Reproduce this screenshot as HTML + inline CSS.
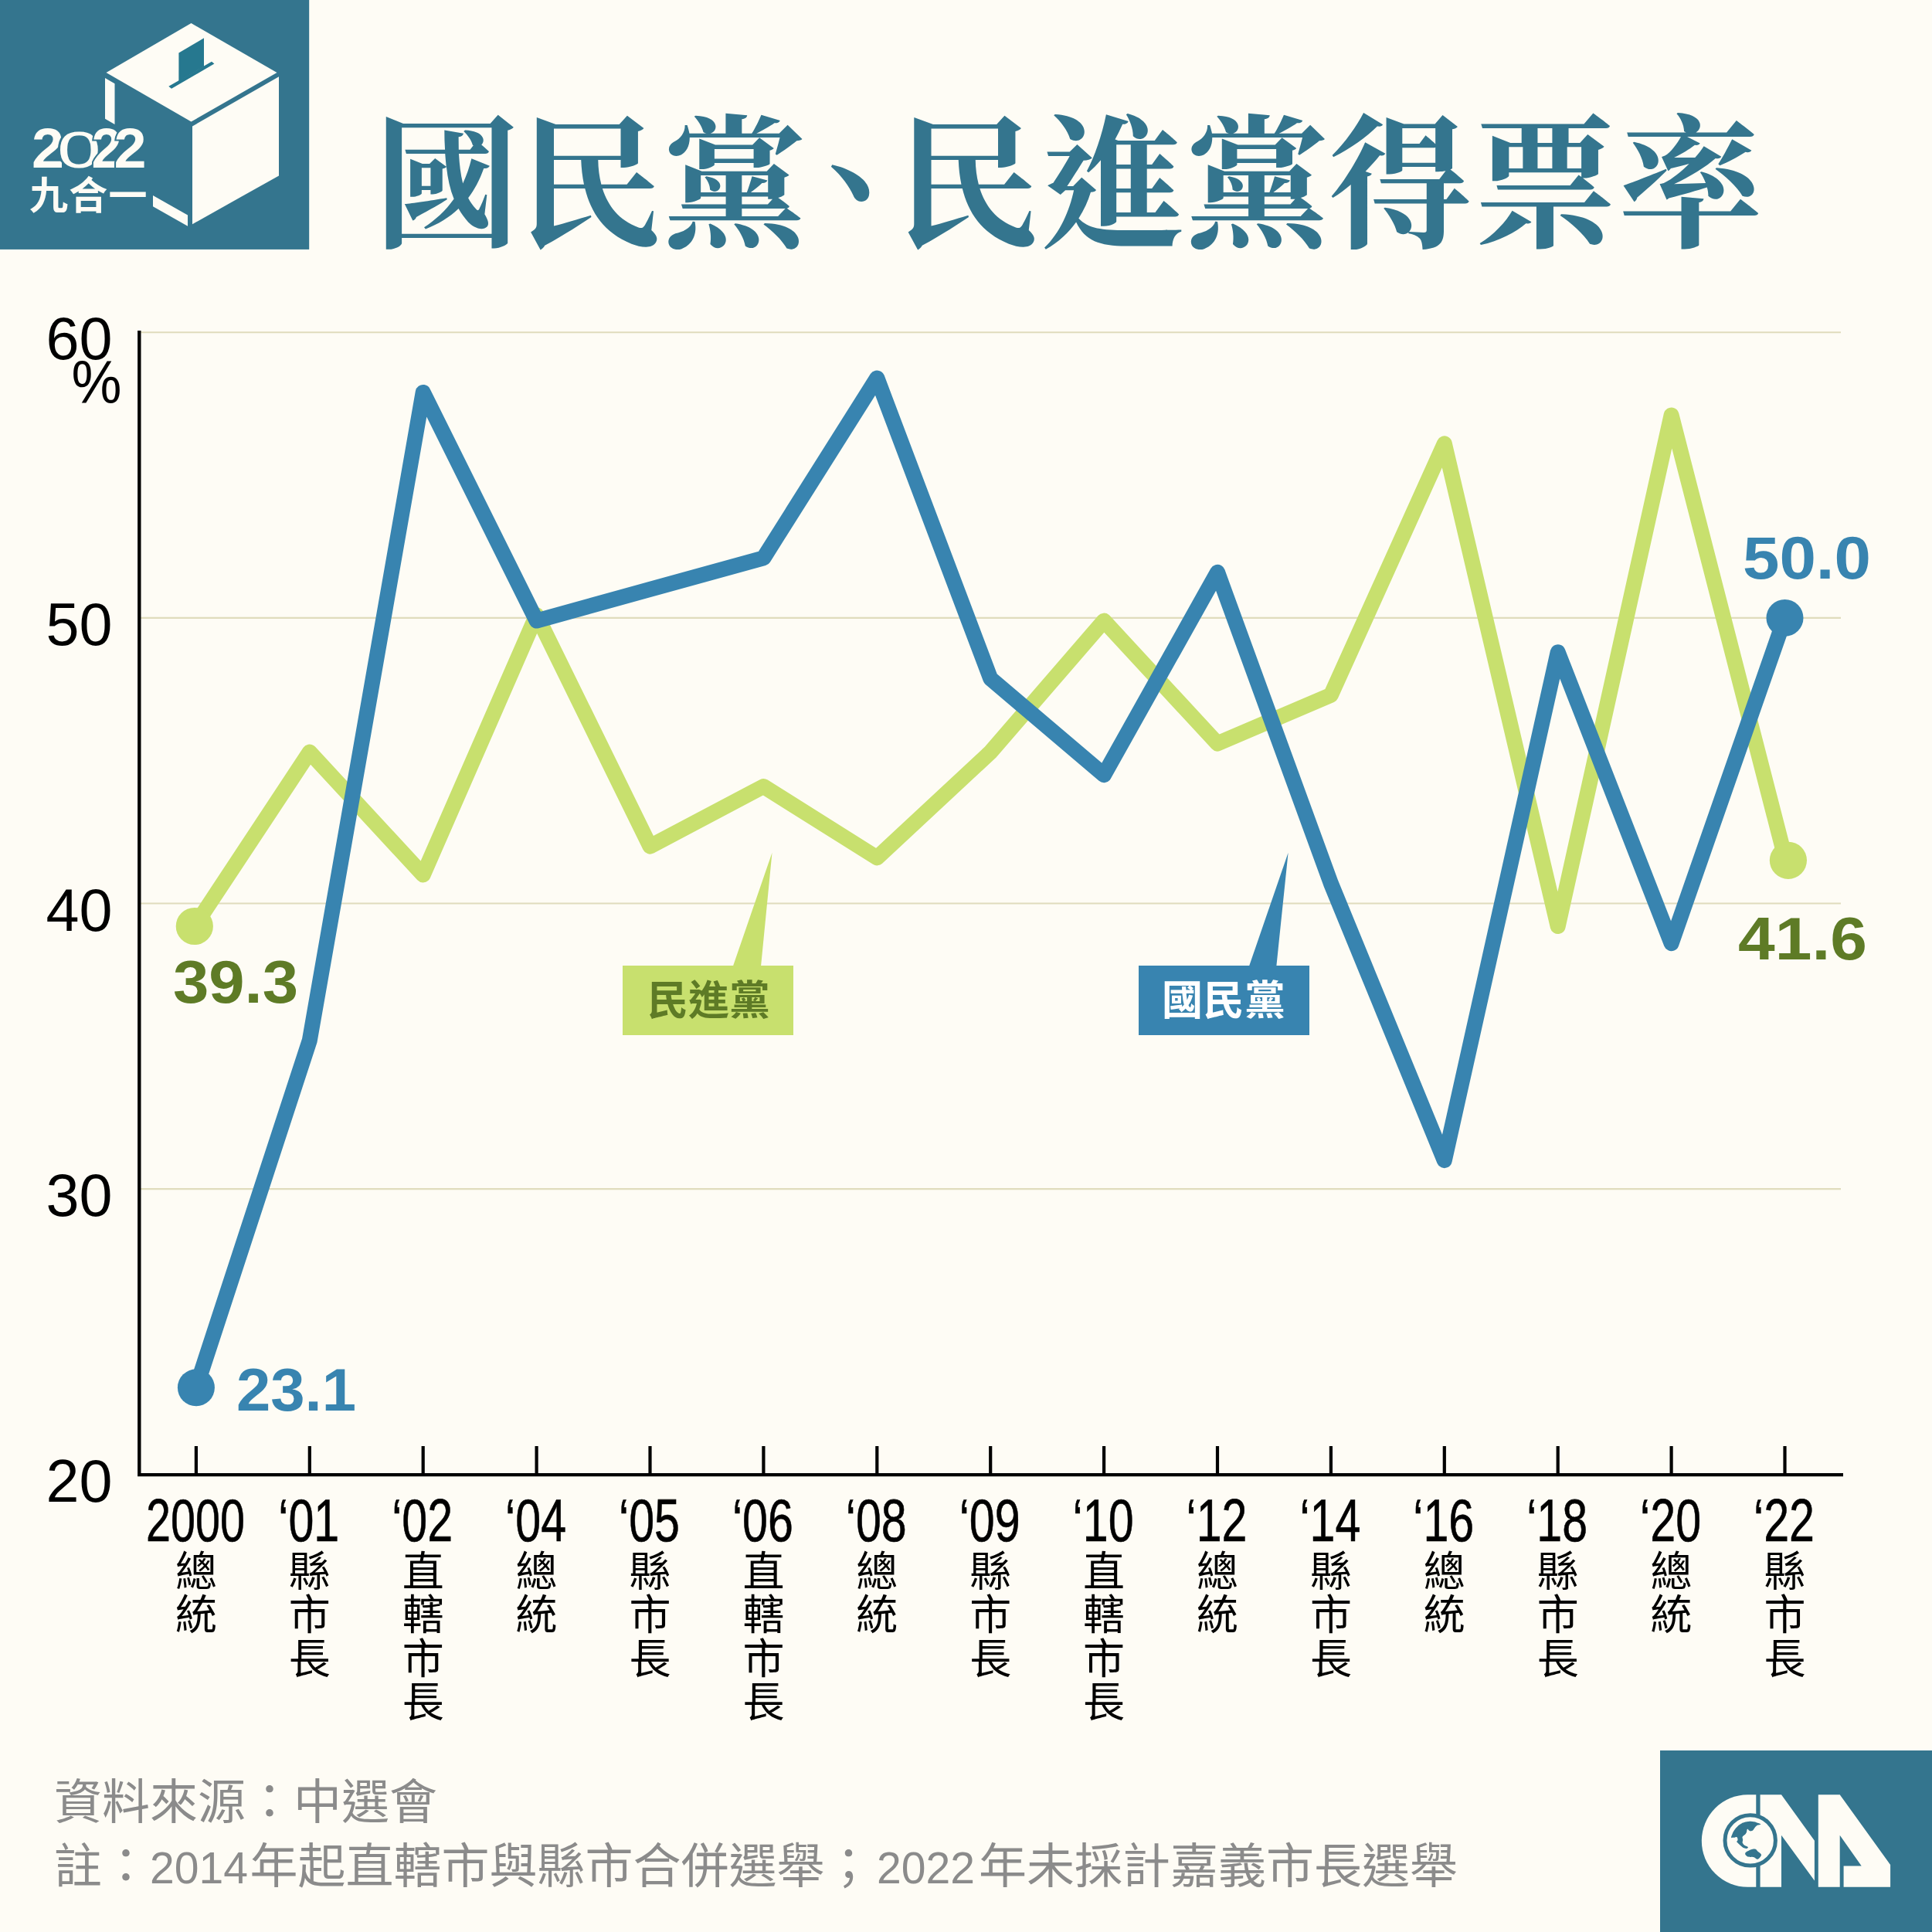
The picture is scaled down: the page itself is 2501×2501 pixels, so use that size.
<!DOCTYPE html>
<html lang="zh-Hant"><head><meta charset="utf-8"><title>國民黨、民進黨得票率</title>
<style>
html,body{margin:0;padding:0;background:#fefcf5;}
svg{display:block}
svg{font-family:"Liberation Sans","Noto Sans CJK TC",sans-serif;}
.serif{font-family:"Liberation Serif","Noto Serif CJK SC",serif;font-weight:700;}
.b{font-weight:700}
</style></head><body>
<svg lang="zh-TW" width="2501" height="2501" viewBox="0 0 2501 2501">
<rect width="2501" height="2501" fill="#fefcf5"/>
<g id="ballot">
<rect x="0" y="0" width="400.2" height="322.9" fill="#34758e"/>
<polygon points="247.5,30 358.5,94 247.5,157.5 137.5,94" fill="#fefcf5"/>
<polygon points="249,163.4 361,99.3 361,227.4 249,290.2" fill="#fefcf5"/>
<polygon points="136,101 148.5,108.2 148.5,161 136,153.7" fill="#fefcf5"/>
<polygon points="198,253 243,278.6 243,292.8 198,267.2" fill="#fefcf5"/>
<polygon points="231.4,68.5 264,49.3 264,86 231.4,105" fill="#26788f"/>
<polygon points="218.3,111.8 274,79.8 277.4,82.5 222,114.8" fill="#26788f"/>
<text y="217.3" class="b" font-size="71.5" fill="#fefcf5" stroke="#34758e" stroke-width="4" paint-order="stroke"><tspan x="41" textLength="42" lengthAdjust="spacingAndGlyphs">2</tspan><tspan x="73.9" font-size="67" font-weight="400" textLength="56.7" lengthAdjust="spacingAndGlyphs">0</tspan><tspan x="118.6" textLength="39" lengthAdjust="spacingAndGlyphs">2</tspan><tspan x="147.6" textLength="42" lengthAdjust="spacingAndGlyphs">2</tspan></text>
<text x="38" y="270.5" class="b" font-size="50" fill="#fefcf5" textLength="152.5" lengthAdjust="spacing">九合一</text>
</g>
<text id="title" class="serif" font-size="186.5" fill="#34758e" x="485.3 672.3 857.8 1012.3 1160.8 1347.3 1534.3 1719.3 1907.3 2095.3" y="306">國民黨、民進黨得票率</text>
<g id="grid" stroke="#e0dcbd" stroke-width="2.1"><line x1="181" y1="430.3" x2="2383" y2="430.3"/><line x1="181" y1="799.9" x2="2383" y2="799.9"/><line x1="181" y1="1169.5" x2="2383" y2="1169.5"/><line x1="181" y1="1539.1" x2="2383" y2="1539.1"/></g>
<g id="ylabels" font-size="77" fill="#000"><text x="59.5" y="465.3" textLength="86" lengthAdjust="spacingAndGlyphs">60</text><text x="59.5" y="834.9" textLength="86" lengthAdjust="spacingAndGlyphs">50</text><text x="59.5" y="1204.5" textLength="86" lengthAdjust="spacingAndGlyphs">40</text><text x="59.5" y="1574.1" textLength="86" lengthAdjust="spacingAndGlyphs">30</text><text x="59.5" y="1943.7" textLength="86" lengthAdjust="spacingAndGlyphs">20</text><text x="92.5" y="521.5" textLength="65" lengthAdjust="spacingAndGlyphs">%</text></g>
<polyline points="251.8,1199.1 400.8,973.6 547.7,1132.5 694.6,796.2 841.5,1095.6 988.4,1018.0 1135.3,1110.4 1282.2,973.6 1429.1,803.6 1576.0,962.5 1722.9,899.7 1869.8,574.4 2016.7,1199.1 2163.6,537.5 2311.6,1113.3" fill="none" stroke="#c8e06e" stroke-width="20" stroke-linejoin="round" stroke-linecap="round"/><circle cx="251.8" cy="1199" r="24.1" fill="#c8e06e"/><circle cx="2314.9" cy="1113.8" r="24.1" fill="#c8e06e"/><polyline points="253.9,1796.3 400.8,1346.9 547.7,507.9 694.6,803.6 841.5,762.9 988.4,722.3 1135.3,489.4 1282.2,878.3 1429.1,1003.2 1576.0,740.8 1722.9,1143.6 1869.8,1502.1 2016.7,844.3 2163.6,1221.2 2310.5,799.9" fill="none" stroke="#3884b0" stroke-width="20" stroke-linejoin="round" stroke-linecap="round"/><circle cx="253.9" cy="1796.3" r="24" fill="#3884b0"/><circle cx="2310.5" cy="799.9" r="24" fill="#3884b0"/>
<g id="axes" stroke="#000" stroke-width="4.4" fill="none"><polyline points="180.3,428 180.3,1909.1 2386,1909.1" /><line x1="253.9" y1="1872" x2="253.9" y2="1909" stroke-width="4.2"/><line x1="400.8" y1="1872" x2="400.8" y2="1909" stroke-width="4.2"/><line x1="547.7" y1="1872" x2="547.7" y2="1909" stroke-width="4.2"/><line x1="694.6" y1="1872" x2="694.6" y2="1909" stroke-width="4.2"/><line x1="841.5" y1="1872" x2="841.5" y2="1909" stroke-width="4.2"/><line x1="988.4" y1="1872" x2="988.4" y2="1909" stroke-width="4.2"/><line x1="1135.3" y1="1872" x2="1135.3" y2="1909" stroke-width="4.2"/><line x1="1282.2" y1="1872" x2="1282.2" y2="1909" stroke-width="4.2"/><line x1="1429.1" y1="1872" x2="1429.1" y2="1909" stroke-width="4.2"/><line x1="1576.0" y1="1872" x2="1576.0" y2="1909" stroke-width="4.2"/><line x1="1722.9" y1="1872" x2="1722.9" y2="1909" stroke-width="4.2"/><line x1="1869.8" y1="1872" x2="1869.8" y2="1909" stroke-width="4.2"/><line x1="2016.7" y1="1872" x2="2016.7" y2="1909" stroke-width="4.2"/><line x1="2163.6" y1="1872" x2="2163.6" y2="1909" stroke-width="4.2"/><line x1="2310.5" y1="1872" x2="2310.5" y2="1909" stroke-width="4.2"/></g>
<g id="xlabels" fill="#000" text-anchor="middle"><text x="252.9" y="1995.2" font-size="77" stroke="#000" stroke-width="0.6" textLength="128" lengthAdjust="spacingAndGlyphs">2000</text><text x="253.9" y="2053.5" font-size="54" style="font-family:"Liberation Sans","Noto Sans CJK TC",sans-serif">總</text><text x="253.9" y="2110.0" font-size="54" style="font-family:"Liberation Sans","Noto Sans CJK TC",sans-serif">統</text><text x="399.8" y="1995.2" font-size="77" stroke="#000" stroke-width="0.6" textLength="79" lengthAdjust="spacingAndGlyphs">‘01</text><text x="400.8" y="2053.5" font-size="54" style="font-family:"Liberation Sans","Noto Sans CJK TC",sans-serif">縣</text><text x="400.8" y="2110.0" font-size="54" style="font-family:"Liberation Sans","Noto Sans CJK TC",sans-serif">市</text><text x="400.8" y="2166.5" font-size="54" style="font-family:"Liberation Sans","Noto Sans CJK TC",sans-serif">長</text><text x="546.7" y="1995.2" font-size="77" stroke="#000" stroke-width="0.6" textLength="79" lengthAdjust="spacingAndGlyphs">‘02</text><text x="547.7" y="2053.5" font-size="54" style="font-family:"Liberation Sans","Noto Sans CJK TC",sans-serif">直</text><text x="547.7" y="2110.0" font-size="54" style="font-family:"Liberation Sans","Noto Sans CJK TC",sans-serif">轄</text><text x="547.7" y="2166.5" font-size="54" style="font-family:"Liberation Sans","Noto Sans CJK TC",sans-serif">市</text><text x="547.7" y="2223.0" font-size="54" style="font-family:"Liberation Sans","Noto Sans CJK TC",sans-serif">長</text><text x="693.6" y="1995.2" font-size="77" stroke="#000" stroke-width="0.6" textLength="79" lengthAdjust="spacingAndGlyphs">‘04</text><text x="694.6" y="2053.5" font-size="54" style="font-family:"Liberation Sans","Noto Sans CJK TC",sans-serif">總</text><text x="694.6" y="2110.0" font-size="54" style="font-family:"Liberation Sans","Noto Sans CJK TC",sans-serif">統</text><text x="840.5" y="1995.2" font-size="77" stroke="#000" stroke-width="0.6" textLength="79" lengthAdjust="spacingAndGlyphs">‘05</text><text x="841.5" y="2053.5" font-size="54" style="font-family:"Liberation Sans","Noto Sans CJK TC",sans-serif">縣</text><text x="841.5" y="2110.0" font-size="54" style="font-family:"Liberation Sans","Noto Sans CJK TC",sans-serif">市</text><text x="841.5" y="2166.5" font-size="54" style="font-family:"Liberation Sans","Noto Sans CJK TC",sans-serif">長</text><text x="987.4" y="1995.2" font-size="77" stroke="#000" stroke-width="0.6" textLength="79" lengthAdjust="spacingAndGlyphs">‘06</text><text x="988.4" y="2053.5" font-size="54" style="font-family:"Liberation Sans","Noto Sans CJK TC",sans-serif">直</text><text x="988.4" y="2110.0" font-size="54" style="font-family:"Liberation Sans","Noto Sans CJK TC",sans-serif">轄</text><text x="988.4" y="2166.5" font-size="54" style="font-family:"Liberation Sans","Noto Sans CJK TC",sans-serif">市</text><text x="988.4" y="2223.0" font-size="54" style="font-family:"Liberation Sans","Noto Sans CJK TC",sans-serif">長</text><text x="1134.3" y="1995.2" font-size="77" stroke="#000" stroke-width="0.6" textLength="79" lengthAdjust="spacingAndGlyphs">‘08</text><text x="1135.3" y="2053.5" font-size="54" style="font-family:"Liberation Sans","Noto Sans CJK TC",sans-serif">總</text><text x="1135.3" y="2110.0" font-size="54" style="font-family:"Liberation Sans","Noto Sans CJK TC",sans-serif">統</text><text x="1281.2" y="1995.2" font-size="77" stroke="#000" stroke-width="0.6" textLength="79" lengthAdjust="spacingAndGlyphs">‘09</text><text x="1282.2" y="2053.5" font-size="54" style="font-family:"Liberation Sans","Noto Sans CJK TC",sans-serif">縣</text><text x="1282.2" y="2110.0" font-size="54" style="font-family:"Liberation Sans","Noto Sans CJK TC",sans-serif">市</text><text x="1282.2" y="2166.5" font-size="54" style="font-family:"Liberation Sans","Noto Sans CJK TC",sans-serif">長</text><text x="1428.1" y="1995.2" font-size="77" stroke="#000" stroke-width="0.6" textLength="79" lengthAdjust="spacingAndGlyphs">‘10</text><text x="1429.1" y="2053.5" font-size="54" style="font-family:"Liberation Sans","Noto Sans CJK TC",sans-serif">直</text><text x="1429.1" y="2110.0" font-size="54" style="font-family:"Liberation Sans","Noto Sans CJK TC",sans-serif">轄</text><text x="1429.1" y="2166.5" font-size="54" style="font-family:"Liberation Sans","Noto Sans CJK TC",sans-serif">市</text><text x="1429.1" y="2223.0" font-size="54" style="font-family:"Liberation Sans","Noto Sans CJK TC",sans-serif">長</text><text x="1575.0" y="1995.2" font-size="77" stroke="#000" stroke-width="0.6" textLength="79" lengthAdjust="spacingAndGlyphs">‘12</text><text x="1576.0" y="2053.5" font-size="54" style="font-family:"Liberation Sans","Noto Sans CJK TC",sans-serif">總</text><text x="1576.0" y="2110.0" font-size="54" style="font-family:"Liberation Sans","Noto Sans CJK TC",sans-serif">統</text><text x="1721.9" y="1995.2" font-size="77" stroke="#000" stroke-width="0.6" textLength="79" lengthAdjust="spacingAndGlyphs">‘14</text><text x="1722.9" y="2053.5" font-size="54" style="font-family:"Liberation Sans","Noto Sans CJK TC",sans-serif">縣</text><text x="1722.9" y="2110.0" font-size="54" style="font-family:"Liberation Sans","Noto Sans CJK TC",sans-serif">市</text><text x="1722.9" y="2166.5" font-size="54" style="font-family:"Liberation Sans","Noto Sans CJK TC",sans-serif">長</text><text x="1868.8" y="1995.2" font-size="77" stroke="#000" stroke-width="0.6" textLength="79" lengthAdjust="spacingAndGlyphs">‘16</text><text x="1869.8" y="2053.5" font-size="54" style="font-family:"Liberation Sans","Noto Sans CJK TC",sans-serif">總</text><text x="1869.8" y="2110.0" font-size="54" style="font-family:"Liberation Sans","Noto Sans CJK TC",sans-serif">統</text><text x="2015.7" y="1995.2" font-size="77" stroke="#000" stroke-width="0.6" textLength="79" lengthAdjust="spacingAndGlyphs">‘18</text><text x="2016.7" y="2053.5" font-size="54" style="font-family:"Liberation Sans","Noto Sans CJK TC",sans-serif">縣</text><text x="2016.7" y="2110.0" font-size="54" style="font-family:"Liberation Sans","Noto Sans CJK TC",sans-serif">市</text><text x="2016.7" y="2166.5" font-size="54" style="font-family:"Liberation Sans","Noto Sans CJK TC",sans-serif">長</text><text x="2162.6" y="1995.2" font-size="77" stroke="#000" stroke-width="0.6" textLength="79" lengthAdjust="spacingAndGlyphs">‘20</text><text x="2163.6" y="2053.5" font-size="54" style="font-family:"Liberation Sans","Noto Sans CJK TC",sans-serif">總</text><text x="2163.6" y="2110.0" font-size="54" style="font-family:"Liberation Sans","Noto Sans CJK TC",sans-serif">統</text><text x="2309.5" y="1995.2" font-size="77" stroke="#000" stroke-width="0.6" textLength="79" lengthAdjust="spacingAndGlyphs">‘22</text><text x="2310.5" y="2053.5" font-size="54" style="font-family:"Liberation Sans","Noto Sans CJK TC",sans-serif">縣</text><text x="2310.5" y="2110.0" font-size="54" style="font-family:"Liberation Sans","Noto Sans CJK TC",sans-serif">市</text><text x="2310.5" y="2166.5" font-size="54" style="font-family:"Liberation Sans","Noto Sans CJK TC",sans-serif">長</text></g>
<g id="vals" class="b" font-size="78">
<text x="224" y="1297.7" fill="#5e7b26" textLength="162" lengthAdjust="spacingAndGlyphs">39.3</text>
<text x="306" y="1826" fill="#3884b0" textLength="155" lengthAdjust="spacingAndGlyphs">23.1</text>
<text x="2256" y="748.7" fill="#3884b0" textLength="166" lengthAdjust="spacingAndGlyphs">50.0</text>
<text x="2250" y="1242" fill="#5e7b26" textLength="167" lengthAdjust="spacingAndGlyphs">41.6</text>
</g>
<g id="legend" class="b" font-size="53">
<polygon points="999.5,1103.8 985,1251 948.8,1251" fill="#c8e06e"/>
<rect x="806" y="1250" width="221" height="90" fill="#c8e06e"/>
<text x="838" y="1313.5" fill="#5e7b26" textLength="159" lengthAdjust="spacing">民進黨</text>
<polygon points="1667.6,1103.8 1652.3,1251 1616.9,1251" fill="#3884b0"/>
<rect x="1474" y="1250" width="221" height="90" fill="#3884b0"/>
<text x="1504" y="1313.5" fill="#ffffff" textLength="160" lengthAdjust="spacing">國民黨</text>
</g>
<g id="footer" fill="#8b8b8b" font-size="62">
<text x="70" y="2355">資料來源：中選會</text>
<text y="2438"><tspan x="70">註：</tspan><tspan x="194" font-size="57.3" textLength="127" lengthAdjust="spacingAndGlyphs">2014</tspan><tspan x="323.5">年起直轄市與縣市合併選舉；</tspan><tspan x="1135" font-size="57.3" textLength="127" lengthAdjust="spacingAndGlyphs">2022</tspan><tspan x="1267">年未採計嘉義市長選舉</tspan></text>
</g>
<g id="cna">
<rect x="2149" y="2266" width="352" height="235" fill="#34758e"/>
<g fill="#fefcf5">
<path d="M2273.6,2323.3 L2262.5,2323.3 A59.7,59.75 0 0 0 2262.5,2442.8 L2273.6,2442.8 Z"/>
<polygon points="2278.3,2323.3 2306,2323.3 2348.9,2382.7 2348.9,2434.4 2306,2375.7 2306,2442.8 2278.3,2442.8"/>
<polygon points="2353.8,2323.3 2381.7,2323.3 2447.1,2414.1 2447.1,2442.8 2386.6,2442.8 2386.6,2415.5 2409.7,2415.5 2381.7,2375.7 2381.7,2442.8 2353.8,2442.8"/>
</g>
<circle cx="2265.7" cy="2382.4" r="32.7" fill="#fefcf5" stroke="#34758e" stroke-width="5"/>
<rect x="2273.45" y="2323" width="4.95" height="27" fill="#34758e"/>
<rect x="2273.45" y="2414" width="4.95" height="29" fill="#34758e"/>
<path d="M2241.1,2378.6C2241.0,2377.5 2241.4,2376.9 2242.4,2374.5C2243.4,2372.0 2243.2,2372.0 2244.9,2369.5C2246.5,2367.0 2246.4,2367.2 2248.6,2364.9C2250.8,2362.7 2250.6,2362.8 2253.2,2361.2C2255.7,2359.6 2255.4,2359.8 2258.1,2358.9C2260.9,2358.1 2260.6,2358.1 2263.5,2357.9C2266.4,2357.7 2266.0,2357.7 2268.9,2358.1C2271.8,2358.5 2271.5,2358.5 2274.3,2359.4C2277.0,2360.2 2278.8,2360.6 2279.2,2361.4C2279.7,2362.3 2277.5,2361.8 2275.9,2362.5C2274.4,2363.1 2274.7,2362.9 2273.4,2363.9C2272.2,2364.9 2272.4,2364.9 2271.4,2366.2C2270.3,2367.5 2270.5,2367.8 2269.5,2368.9C2268.5,2369.9 2268.6,2369.7 2267.7,2370.1C2266.7,2370.5 2266.7,2370.5 2265.8,2370.3C2264.9,2370.2 2265.0,2370.2 2264.1,2369.5C2263.2,2368.8 2263.2,2368.0 2262.5,2367.8C2261.8,2367.7 2261.8,2367.9 2261.4,2368.9C2261.1,2369.9 2261.5,2370.2 2261.0,2371.6C2260.6,2372.9 2260.7,2372.7 2259.8,2373.9C2258.9,2375.0 2258.8,2374.8 2257.7,2375.7C2256.7,2376.7 2256.4,2376.5 2255.9,2377.4C2255.3,2378.3 2255.5,2378.0 2255.6,2379.0C2255.6,2380.0 2255.9,2380.0 2256.1,2381.1C2256.2,2382.1 2256.1,2382.0 2256.0,2383.0C2255.9,2384.0 2255.6,2383.9 2255.6,2384.8C2255.7,2385.8 2255.7,2385.5 2256.3,2386.5C2256.8,2387.4 2256.8,2387.5 2257.7,2388.3C2258.7,2389.2 2258.7,2389.0 2259.8,2389.6C2260.9,2390.1 2261.0,2389.9 2261.9,2390.4C2262.7,2390.9 2262.8,2390.8 2262.9,2391.4C2262.9,2391.9 2262.8,2392.1 2262.1,2392.5C2261.3,2392.9 2261.4,2393.0 2260.2,2392.9C2259.0,2392.8 2259.1,2392.9 2257.7,2392.3C2256.3,2391.6 2256.4,2391.6 2254.8,2390.4C2253.3,2389.3 2253.4,2389.3 2251.9,2387.9C2250.4,2386.5 2250.2,2386.3 2249.2,2385.2C2248.2,2384.2 2248.2,2384.7 2248.2,2384.0C2248.2,2383.3 2248.9,2383.7 2249.2,2382.8C2249.6,2381.8 2249.6,2381.4 2249.4,2380.3C2249.3,2379.1 2249.1,2379.0 2248.6,2378.4C2248.1,2377.8 2248.5,2377.9 2247.6,2378.0C2246.7,2378.1 2246.6,2378.5 2245.3,2378.7C2244.0,2378.9 2243.9,2378.8 2242.8,2378.8C2241.7,2378.8 2241.3,2379.8 2241.1,2378.6Z" fill="#34758e"/>
<path d="M2259.2,2399.5C2259.3,2398.6 2259.1,2398.6 2260.2,2397.7C2261.2,2396.7 2261.3,2396.9 2263.1,2396.0C2264.9,2395.1 2264.8,2395.0 2266.8,2394.3C2268.8,2393.7 2268.9,2393.6 2270.6,2393.5C2272.2,2393.5 2271.8,2393.4 2273.0,2394.1C2274.3,2394.9 2273.9,2395.1 2275.1,2396.2C2276.3,2397.3 2276.4,2397.2 2277.6,2398.3C2278.8,2399.3 2278.8,2399.2 2279.5,2400.1C2280.1,2401.1 2280.0,2400.9 2279.9,2401.8C2279.7,2402.7 2279.6,2402.6 2278.8,2403.7C2278.1,2404.7 2278.0,2404.9 2277.0,2405.7C2276.0,2406.6 2276.1,2406.7 2275.1,2406.8C2274.1,2406.8 2274.3,2406.6 2273.2,2405.9C2272.1,2405.3 2272.1,2405.0 2271.0,2404.5C2269.8,2403.9 2270.3,2404.0 2268.9,2403.9C2267.5,2403.7 2267.3,2404.0 2265.8,2403.9C2264.2,2403.8 2264.4,2403.9 2263.1,2403.5C2261.8,2403.2 2262.0,2403.1 2261.0,2402.4C2260.1,2401.7 2260.1,2401.7 2259.6,2401.0C2259.1,2400.2 2259.0,2400.4 2259.2,2399.5Z" fill="#34758e"/>
</g>
</svg></body></html>
